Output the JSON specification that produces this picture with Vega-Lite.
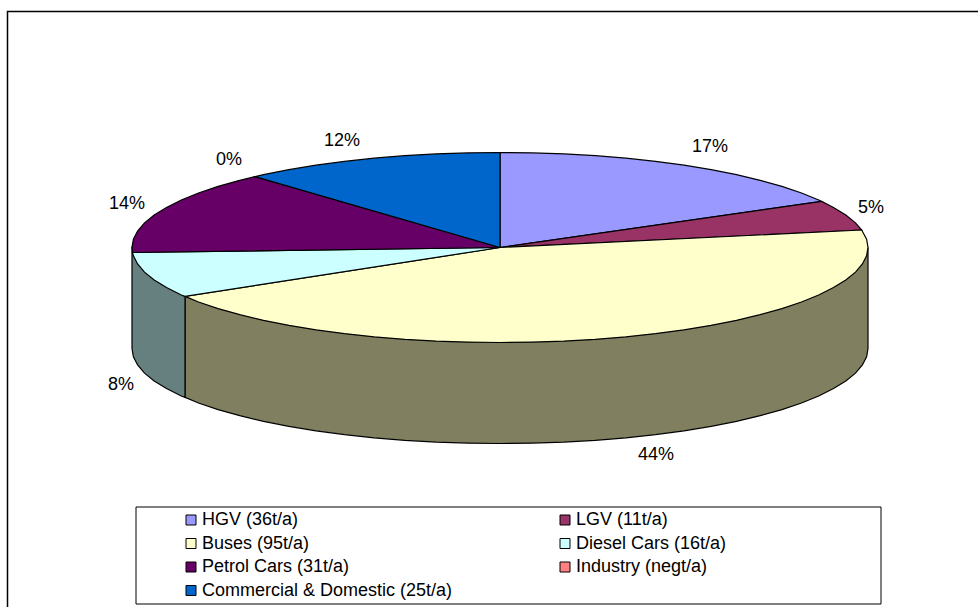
{"$schema":"https://vega.github.io/schema/vega-lite/v6.json","width":978,"height":607,"autosize":{"type":"none"},"padding":0,"background":"white","config":{"view":{"stroke":null},"font":"Liberation Sans"},
"datasets":{
"tops":[
{"part":"HGV (36t/a)","i":0,"x":500,"y":247.5},{"part":"HGV (36t/a)","i":1,"x":500,"y":152.5},{"part":"HGV (36t/a)","i":2,"x":532.1,"y":152.9},{"part":"HGV (36t/a)","i":3,"x":563.9,"y":153.9},{"part":"HGV (36t/a)","i":4,"x":595.2,"y":155.7},{"part":"HGV (36t/a)","i":5,"x":625.9,"y":158.2},{"part":"HGV (36t/a)","i":6,"x":655.5,"y":161.4},{"part":"HGV (36t/a)","i":7,"x":684,"y":165.2},{"part":"HGV (36t/a)","i":8,"x":711.1,"y":169.7},{"part":"HGV (36t/a)","i":9,"x":736.5,"y":174.7},{"part":"HGV (36t/a)","i":10,"x":760.2,"y":180.3},{"part":"HGV (36t/a)","i":11,"x":781.9,"y":186.4},{"part":"HGV (36t/a)","i":12,"x":801.5,"y":193},{"part":"HGV (36t/a)","i":13,"x":818.7,"y":200},{"part":"HGV (36t/a)","i":14,"x":821.7,"y":201.4},{"part":"HGV (36t/a)","i":15,"x":500,"y":247.5},
{"part":"LGV (11t/a)","i":0,"x":500,"y":247.5},{"part":"LGV (11t/a)","i":1,"x":821.7,"y":201.4},{"part":"LGV (11t/a)","i":2,"x":833.5,"y":207.4},{"part":"LGV (11t/a)","i":3,"x":845.8,"y":215},{"part":"LGV (11t/a)","i":4,"x":855.5,"y":222.9},{"part":"LGV (11t/a)","i":5,"x":861.7,"y":230},{"part":"LGV (11t/a)","i":6,"x":500,"y":247.5},
{"part":"Buses (95t/a)","i":0,"x":500,"y":247.5},{"part":"Buses (95t/a)","i":1,"x":861.7,"y":230},{"part":"Buses (95t/a)","i":2,"x":866.6,"y":239.2},{"part":"Buses (95t/a)","i":3,"x":868,"y":247.5},{"part":"Buses (95t/a)","i":4,"x":866.6,"y":255.8},{"part":"Buses (95t/a)","i":5,"x":862.4,"y":264},{"part":"Buses (95t/a)","i":6,"x":855.5,"y":272.1},{"part":"Buses (95t/a)","i":7,"x":845.8,"y":280},{"part":"Buses (95t/a)","i":8,"x":833.5,"y":287.6},{"part":"Buses (95t/a)","i":9,"x":818.7,"y":295},{"part":"Buses (95t/a)","i":10,"x":801.5,"y":302},{"part":"Buses (95t/a)","i":11,"x":781.9,"y":308.6},{"part":"Buses (95t/a)","i":12,"x":760.2,"y":314.7},{"part":"Buses (95t/a)","i":13,"x":736.5,"y":320.3},{"part":"Buses (95t/a)","i":14,"x":711.1,"y":325.3},{"part":"Buses (95t/a)","i":15,"x":684,"y":329.8},{"part":"Buses (95t/a)","i":16,"x":655.5,"y":333.6},{"part":"Buses (95t/a)","i":17,"x":625.9,"y":336.8},{"part":"Buses (95t/a)","i":18,"x":595.2,"y":339.3},{"part":"Buses (95t/a)","i":19,"x":563.9,"y":341.1},{"part":"Buses (95t/a)","i":20,"x":532.1,"y":342.1},{"part":"Buses (95t/a)","i":21,"x":500,"y":342.5},{"part":"Buses (95t/a)","i":22,"x":467.9,"y":342.1},{"part":"Buses (95t/a)","i":23,"x":436.1,"y":341.1},{"part":"Buses (95t/a)","i":24,"x":404.8,"y":339.3},{"part":"Buses (95t/a)","i":25,"x":374.1,"y":336.8},{"part":"Buses (95t/a)","i":26,"x":344.5,"y":333.6},{"part":"Buses (95t/a)","i":27,"x":316,"y":329.8},{"part":"Buses (95t/a)","i":28,"x":288.9,"y":325.3},{"part":"Buses (95t/a)","i":29,"x":263.5,"y":320.3},{"part":"Buses (95t/a)","i":30,"x":239.8,"y":314.7},{"part":"Buses (95t/a)","i":31,"x":218.1,"y":308.6},{"part":"Buses (95t/a)","i":32,"x":198.5,"y":302},{"part":"Buses (95t/a)","i":33,"x":185,"y":296.4},{"part":"Buses (95t/a)","i":34,"x":500,"y":247.5},
{"part":"Diesel Cars (16t/a)","i":0,"x":500,"y":247.5},{"part":"Diesel Cars (16t/a)","i":1,"x":185,"y":296.4},{"part":"Diesel Cars (16t/a)","i":2,"x":181.3,"y":295},{"part":"Diesel Cars (16t/a)","i":3,"x":166.5,"y":287.6},{"part":"Diesel Cars (16t/a)","i":4,"x":154.2,"y":280},{"part":"Diesel Cars (16t/a)","i":5,"x":144.5,"y":272.1},{"part":"Diesel Cars (16t/a)","i":6,"x":137.6,"y":264},{"part":"Diesel Cars (16t/a)","i":7,"x":133.4,"y":255.8},{"part":"Diesel Cars (16t/a)","i":8,"x":132.5,"y":252.5},{"part":"Diesel Cars (16t/a)","i":9,"x":500,"y":247.5},
{"part":"Petrol Cars (31t/a)","i":0,"x":500,"y":247.5},{"part":"Petrol Cars (31t/a)","i":1,"x":132.5,"y":252.5},{"part":"Petrol Cars (31t/a)","i":2,"x":132,"y":247.5},{"part":"Petrol Cars (31t/a)","i":3,"x":133.4,"y":239.2},{"part":"Petrol Cars (31t/a)","i":4,"x":137.6,"y":231},{"part":"Petrol Cars (31t/a)","i":5,"x":144.5,"y":222.9},{"part":"Petrol Cars (31t/a)","i":6,"x":154.2,"y":215},{"part":"Petrol Cars (31t/a)","i":7,"x":166.5,"y":207.4},{"part":"Petrol Cars (31t/a)","i":8,"x":181.3,"y":200},{"part":"Petrol Cars (31t/a)","i":9,"x":198.5,"y":193},{"part":"Petrol Cars (31t/a)","i":10,"x":218.1,"y":186.4},{"part":"Petrol Cars (31t/a)","i":11,"x":239.8,"y":180.3},{"part":"Petrol Cars (31t/a)","i":12,"x":255,"y":176.7},{"part":"Petrol Cars (31t/a)","i":13,"x":500,"y":247.5},
{"part":"Commercial & Domestic (25t/a)","i":0,"x":500,"y":247.5},{"part":"Commercial & Domestic (25t/a)","i":1,"x":255,"y":176.7},{"part":"Commercial & Domestic (25t/a)","i":2,"x":263.5,"y":174.7},{"part":"Commercial & Domestic (25t/a)","i":3,"x":288.9,"y":169.7},{"part":"Commercial & Domestic (25t/a)","i":4,"x":316,"y":165.2},{"part":"Commercial & Domestic (25t/a)","i":5,"x":344.5,"y":161.4},{"part":"Commercial & Domestic (25t/a)","i":6,"x":374.1,"y":158.2},{"part":"Commercial & Domestic (25t/a)","i":7,"x":404.8,"y":155.7},{"part":"Commercial & Domestic (25t/a)","i":8,"x":436.1,"y":153.9},{"part":"Commercial & Domestic (25t/a)","i":9,"x":467.9,"y":152.9},{"part":"Commercial & Domestic (25t/a)","i":10,"x":500,"y":152.5},{"part":"Commercial & Domestic (25t/a)","i":11,"x":500,"y":247.5}
],
"sides":[
{"part":"Buses side","i":0,"x":868,"y":247.5},{"part":"Buses side","i":1,"x":868,"y":348.5},{"part":"Buses side","i":2,"x":866.6,"y":356.8},{"part":"Buses side","i":3,"x":862.4,"y":365},{"part":"Buses side","i":4,"x":855.5,"y":373.1},{"part":"Buses side","i":5,"x":845.8,"y":381},{"part":"Buses side","i":6,"x":833.5,"y":388.6},{"part":"Buses side","i":7,"x":818.7,"y":396},{"part":"Buses side","i":8,"x":801.5,"y":403},{"part":"Buses side","i":9,"x":781.9,"y":409.6},{"part":"Buses side","i":10,"x":760.2,"y":415.7},{"part":"Buses side","i":11,"x":736.5,"y":421.3},{"part":"Buses side","i":12,"x":711.1,"y":426.3},{"part":"Buses side","i":13,"x":684,"y":430.8},{"part":"Buses side","i":14,"x":655.5,"y":434.6},{"part":"Buses side","i":15,"x":625.9,"y":437.8},{"part":"Buses side","i":16,"x":595.2,"y":440.3},{"part":"Buses side","i":17,"x":563.9,"y":442.1},{"part":"Buses side","i":18,"x":532.1,"y":443.1},{"part":"Buses side","i":19,"x":500,"y":443.5},{"part":"Buses side","i":20,"x":467.9,"y":443.1},{"part":"Buses side","i":21,"x":436.1,"y":442.1},{"part":"Buses side","i":22,"x":404.8,"y":440.3},{"part":"Buses side","i":23,"x":374.1,"y":437.8},{"part":"Buses side","i":24,"x":344.5,"y":434.6},{"part":"Buses side","i":25,"x":316,"y":430.8},{"part":"Buses side","i":26,"x":288.9,"y":426.3},{"part":"Buses side","i":27,"x":263.5,"y":421.3},{"part":"Buses side","i":28,"x":239.8,"y":415.7},{"part":"Buses side","i":29,"x":218.1,"y":409.6},{"part":"Buses side","i":30,"x":198.5,"y":403},{"part":"Buses side","i":31,"x":185,"y":397.4},{"part":"Buses side","i":32,"x":185,"y":296.4},{"part":"Buses side","i":33,"x":500,"y":342.5},{"part":"Buses side","i":34,"x":868,"y":247.5},
{"part":"Diesel side","i":0,"x":185,"y":296.4},{"part":"Diesel side","i":1,"x":185,"y":397.4},{"part":"Diesel side","i":2,"x":181.3,"y":396},{"part":"Diesel side","i":3,"x":166.5,"y":388.6},{"part":"Diesel side","i":4,"x":154.2,"y":381},{"part":"Diesel side","i":5,"x":144.5,"y":373.1},{"part":"Diesel side","i":6,"x":137.6,"y":365},{"part":"Diesel side","i":7,"x":133.4,"y":356.8},{"part":"Diesel side","i":8,"x":132,"y":348.5},{"part":"Diesel side","i":9,"x":132,"y":247.5},{"part":"Diesel side","i":10,"x":185,"y":296.4}
],
"labels":[
{"label":"17%","x":710,"y":147},{"label":"5%","x":871,"y":208},{"label":"44%","x":656,"y":455},{"label":"8%","x":121,"y":385},{"label":"14%","x":127,"y":204},{"label":"0%","x":229,"y":160},{"label":"12%","x":342,"y":141}
],
"frame":[{"i":0,"x":978,"y":11.5},{"i":1,"x":7.5,"y":11.5},{"i":2,"x":7.5,"y":607}],
"box":[{"x":136,"x2":881,"y":507,"y2":604}]
},
"layer":[
{"data":{"name":"frame"},"mark":{"type":"line","stroke":"black","strokeWidth":1.5},"encoding":{"x":{"field":"x","type":"quantitative","scale":{"domain":[0,978],"nice":false,"zero":false},"axis":null},"y":{"field":"y","type":"quantitative","scale":{"domain":[607,0],"nice":false,"zero":false},"axis":null},"order":{"field":"i"}}},
{"data":{"name":"box"},"mark":{"type":"rect","fill":"white","stroke":"black","strokeWidth":1},"encoding":{"x":{"field":"x","type":"quantitative"},"x2":{"field":"x2"},"y":{"field":"y","type":"quantitative"},"y2":{"field":"y2"}}},
{"data":{"name":"sides"},"mark":{"type":"line","stroke":"black","strokeWidth":1.2},"encoding":{"x":{"field":"x","type":"quantitative"},"y":{"field":"y","type":"quantitative"},"order":{"field":"i"},"fill":{"field":"part","type":"nominal","scale":{"domain":["Buses side","Diesel side"],"range":["#808060","#668080"]},"legend":null}}},
{"data":{"name":"tops"},"mark":{"type":"line","stroke":"black","strokeWidth":1.2},"encoding":{"x":{"field":"x","type":"quantitative"},"y":{"field":"y","type":"quantitative"},"order":{"field":"i"},"fill":{"field":"part","type":"nominal","scale":{"domain":["HGV (36t/a)","LGV (11t/a)","Buses (95t/a)","Diesel Cars (16t/a)","Petrol Cars (31t/a)","Industry (negt/a)","Commercial & Domestic (25t/a)"],"range":["#9999FF","#993366","#FFFFCC","#CCFFFF","#660066","#FF8080","#0066CC"]},"legend":{"title":null,"orient":"none","legendX":182,"legendY":511,"direction":"horizontal","columns":2,"columnPadding":103,"rowPadding":5.5,"symbolType":"square","symbolSize":100,"symbolStrokeColor":"black","symbolStrokeWidth":1,"symbolOpacity":1,"labelFont":"Liberation Sans","labelFontSize":18,"labelColor":"black","labelLimit":400,"labelOffset":2}}}},
{"data":{"name":"labels"},"mark":{"type":"text","font":"Liberation Sans","fontSize":18,"color":"black","align":"center","baseline":"middle"},"encoding":{"x":{"field":"x","type":"quantitative"},"y":{"field":"y","type":"quantitative"},"text":{"field":"label"}}}
],
"resolve":{"scale":{"fill":"independent"}}}
